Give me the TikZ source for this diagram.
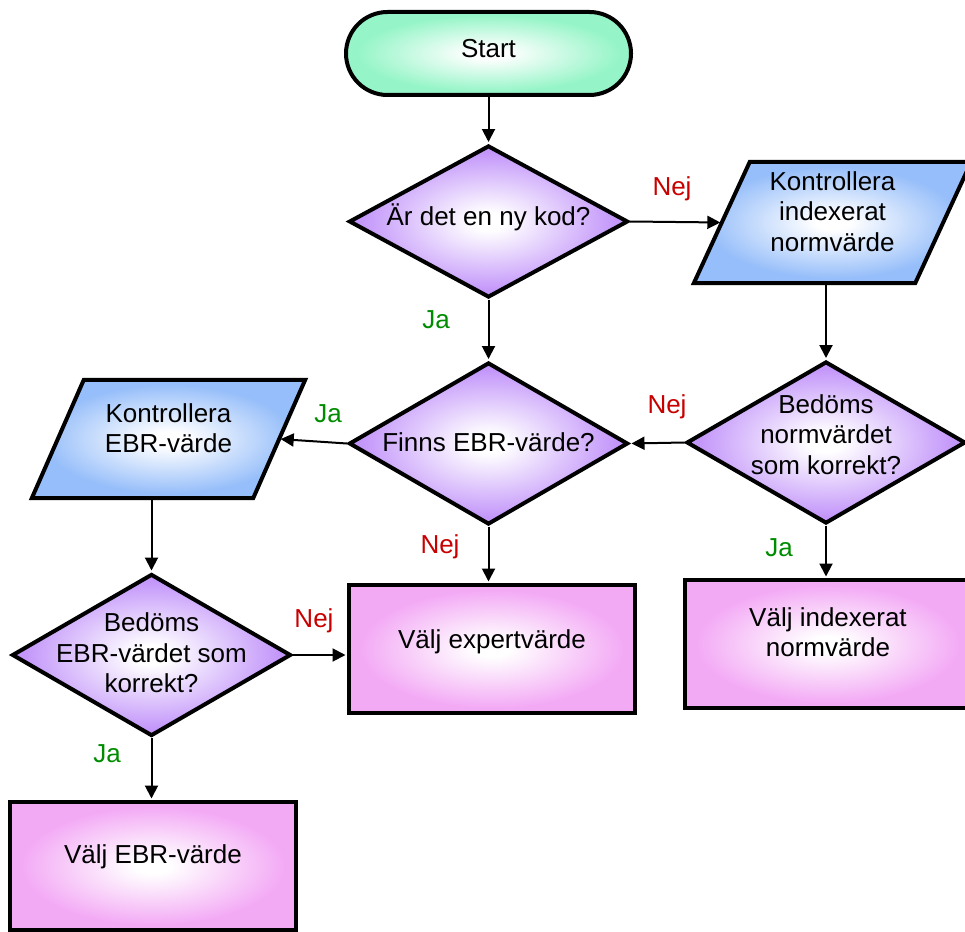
\documentclass[tikz,border=0pt]{standalone}
\usepackage{fontspec}
\setmainfont{Liberation Sans}
\usetikzlibrary{shapes.geometric,arrows.meta}
\definecolor{mint}{RGB}{150,245,200}
\definecolor{purp}{RGB}{195,150,250}
\definecolor{pblue}{RGB}{150,190,250}
\definecolor{ppink}{RGB}{243,170,245}
\definecolor{nejred}{RGB}{200,0,0}
\definecolor{jagreen}{RGB}{0,140,0}
\pgfdeclareradialshading{glowmint}{\pgfpointorigin}{color(0bp)=(white);color(3bp)=(white);color(23bp)=(mint);color(50bp)=(mint)}
\pgfdeclareradialshading{glowpurp}{\pgfpointorigin}{color(0bp)=(white);color(3bp)=(white);color(23bp)=(purp);color(50bp)=(purp)}
\pgfdeclareradialshading{glowblue}{\pgfpointorigin}{color(0bp)=(white);color(3bp)=(white);color(23bp)=(pblue);color(50bp)=(pblue)}
\pgfdeclareradialshading{glowpink}{\pgfpointorigin}{color(0bp)=(white);color(3bp)=(white);color(23bp)=(ppink);color(50bp)=(ppink)}
\begin{document}
\begin{tikzpicture}[x=1pt,y=-1pt,
  txt/.style={font=\fontsize{26}{30.5}\selectfont, align=center, inner sep=0pt},
  lab/.style={font=\fontsize{26}{30}\selectfont, inner sep=0pt},
  fcbox/.style={draw=black, line width=4pt, shade, inner sep=0pt},
  startbox/.style={fcbox, rectangle, rounded corners=41.5pt, shading=glowmint, minimum width=285pt, minimum height=83pt},
  decision/.style={fcbox, diamond, shading=glowpurp, minimum width=279pt, minimum height=162pt},
  procbox/.style={fcbox, rectangle, shading=glowpink, minimum width=286pt, minimum height=128pt},
  anchorbox/.style={inner sep=0pt, minimum width=221pt},
  pgram/.style={draw=black, line width=4pt, shade, shading=glowblue},
  conn/.style={line width=2pt, -{Triangle[length=13pt,width=13pt]}, shorten >=1.5pt},
]
\useasboundingbox (0,0) rectangle (965,931);
\fill[white] (0,0) rectangle (965,931);

% terminal
\node[startbox, label={[txt,yshift=5pt]center:Start}] (start) at (488.5,53.5) {};

% decisions
\node[decision, minimum height=152pt, label={[txt,yshift=4pt]center:Är det en ny kod?}] (d1) at (488.5,221.5) {};
\node[decision, label={[txt,yshift=1pt]center:Finns EBR-värde?}] (d2) at (488.5,443.5) {};
\node[decision, label={[txt,yshift=8pt]center:Bedöms\\normvärdet\\som korrekt?}] (d3) at (826,442.5) {};
\node[decision, label={[txt,yshift=2pt]center:Bedöms\\EBR-värdet som\\korrekt?}] (d4) at (151.5,655) {};

% process boxes
\node[procbox, label={[txt,yshift=7pt]center:Välj expertvärde}] (r1) at (492,649) {};
\node[procbox, label={[txt,yshift=12pt]center:Välj indexerat\\normvärde}] (r2) at (828,644) {};
\node[procbox, label={[txt,yshift=9pt]center:Välj EBR-värde}] (r3) at (153,866) {};

% parallelograms
\node[anchorbox, minimum height=121pt] (p1) at (832.5,222.5) {};
\path[pgram] ([xshift=-28pt]p1.south west) -- ([xshift=-28pt]p1.south east) -- ([xshift=28pt]p1.north east) -- ([xshift=28pt]p1.north west) -- cycle;
\node[txt] (p1t) at ([yshift=11pt]p1.center) {Kontrollera\\indexerat\\normvärde};

\node[anchorbox, minimum height=118pt] (p2) at (168.5,439) {};
\path[pgram] ([xshift=-26pt]p2.south west) -- ([xshift=-26pt]p2.south east) -- ([xshift=26pt]p2.north east) -- ([xshift=26pt]p2.north west) -- cycle;
\node[txt] (p2t) at ([yshift=11pt]p2.center) {Kontrollera\\EBR-värde};

% connectors
\draw[conn] (start.south) -- (d1.north);
\draw[conn] (d1.south) -- (d2.north);
\draw[conn] (d1.east) -- (p1.west);
\draw[conn] (d3.north |- p1.south) -- (d3.north);
\draw[conn] (d3.west) -- (d2.east);
\draw[conn] (d2.west) -- (p2.east);
\draw[conn] (d4.north |- p2.south) -- (d4.north);
\draw[conn] (d4.east) -- (d4.east -| r1.west);
\draw[conn] (d2.south) -- (d2.south |- r1.north);
\draw[conn] (d3.south) -- (d3.south |- r2.north);
\draw[conn] (d4.south) -- (d4.south |- r3.north);

% branch labels
\node[lab, text=nejred] (l1) at (672,189) {Nej};
\node[lab, text=jagreen] (l2) at (436,320) {Ja};
\node[lab, text=jagreen] (l3) at (328,414) {Ja};
\node[lab, text=nejred] (l4) at (667,407) {Nej};
\node[lab, text=nejred] (l5) at (314,621) {Nej};
\node[lab, text=nejred] (l6) at (440,547) {Nej};
\node[lab, text=jagreen] (l7) at (779,548) {Ja};
\node[lab, text=jagreen] (l8) at (107,754) {Ja};
\end{tikzpicture}
\end{document}
